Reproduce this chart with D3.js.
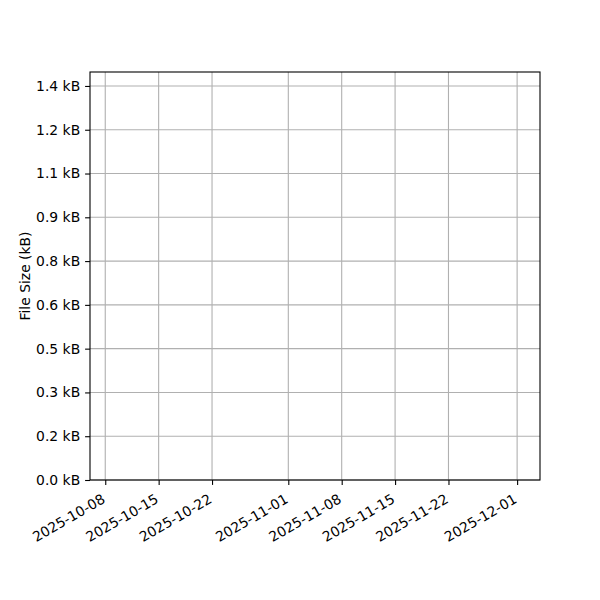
<!DOCTYPE html>
<html>
<head>
<meta charset="utf-8">
<script src="https://cdn.jsdelivr.net/npm/d3@7"></script>
<style>
  body { margin: 0; background: #fff; }
  svg text { font-family: "DejaVu Sans", sans-serif; fill: #000; }
</style>
</head>
<body>
<svg id="chart" width="600" height="600"></svg>
<script>
// no points recorded yet, the series is empty
var dates = [];
var sizes = [];

var xStart = "2025-10-06";
var xEnd = "2025-12-04";
var xTicks = ["2025-10-08", "2025-10-15", "2025-10-22", "2025-11-01",
              "2025-11-08", "2025-11-15", "2025-11-22", "2025-12-01"];

var yMax = 1491; // bytes
var yTicks = [0, 160, 320, 480, 640, 800, 960, 1120, 1280, 1440];
var yTickLabels = ["0.0 kB", "0.2 kB", "0.3 kB", "0.5 kB", "0.6 kB",
                   "0.8 kB", "0.9 kB", "1.1 kB", "1.2 kB", "1.4 kB"];

var yLabel = "File Size (kB)";

var parse = d3.utcParse("%Y-%m-%d");

var L = 90, R = 540, T = 72, B = 480;
var fs = 13.9;

var svg = d3.select("#chart");

var xScale = d3.scaleUtc().domain([parse(xStart), parse(xEnd)]).range([L, R]);
var yScale = d3.scaleLinear().domain([0, yMax]).range([B, T]);

// grid
var grid = svg.append("g").attr("class", "grid");
grid.selectAll("line.gx")
    .data(xTicks)
  .enter().append("line")
    .attr("x1", function(d) { return xScale(parse(d)); })
    .attr("x2", function(d) { return xScale(parse(d)); })
    .attr("y1", T).attr("y2", B)
    .attr("stroke", "#b0b0b0").attr("stroke-width", 1.1);
grid.selectAll("line.gy")
    .data(yTicks)
  .enter().append("line")
    .attr("x1", L).attr("x2", R)
    .attr("y1", function(d) { return yScale(d); })
    .attr("y2", function(d) { return yScale(d); })
    .attr("stroke", "#b0b0b0").attr("stroke-width", 1.1);

// data line (empty)
var lineGen = d3.line()
    .x(function(d, i) { return xScale(parse(dates[i])); })
    .y(function(d) { return yScale(d); });
svg.append("path")
    .attr("d", lineGen(sizes) || "")
    .attr("fill", "none")
    .attr("stroke", "#1f77b4")
    .attr("stroke-width", 2);

// axes
var xAxis = d3.axisBottom(xScale)
    .tickValues(xTicks.map(parse))
    .tickFormat(d3.utcFormat("%Y-%m-%d"))
    .tickSize(4.9)
    .tickPadding(4.9);
var gx = svg.append("g")
    .attr("transform", "translate(0," + B + ")")
    .call(xAxis);
gx.select(".domain").remove();
gx.selectAll("line").attr("stroke", "#000").attr("stroke-width", 1.1);

var asc = 0.76 * fs, desc = 0.24 * fs;
gx.selectAll("text")
    .attr("font-size", fs)
    .attr("text-anchor", "end")
    .attr("y", 0).attr("dy", 0)
    .attr("transform", "translate(" + (2 - 0.5 * desc) + "," + (3 + 4.9 + 4.9 + 0.866 * asc) + ") rotate(-30)");

var yAxis = d3.axisLeft(yScale)
    .tickValues(yTicks)
    .tickFormat(function(d, i) { return yTickLabels[i]; })
    .tickSize(4.9)
    .tickPadding(4.9);
var gy = svg.append("g")
    .attr("transform", "translate(" + L + ",0)")
    .call(yAxis);
gy.select(".domain").remove();
gy.selectAll("line").attr("stroke", "#000").attr("stroke-width", 1.1);
gy.selectAll("text").attr("font-size", fs).attr("font-family", "DejaVu Sans");

// frame
svg.append("rect")
    .attr("x", L).attr("y", T)
    .attr("width", R - L).attr("height", B - T)
    .attr("fill", "none")
    .attr("stroke", "#000")
    .attr("stroke-width", 1.1);

svg.append("text")
    .attr("transform", "translate(" + 29.5 + "," + ((T + B) / 2) + ") rotate(-90)")
    .attr("text-anchor", "middle")
    .attr("font-size", fs)
    .text(yLabel);
</script>
</body>
</html>
